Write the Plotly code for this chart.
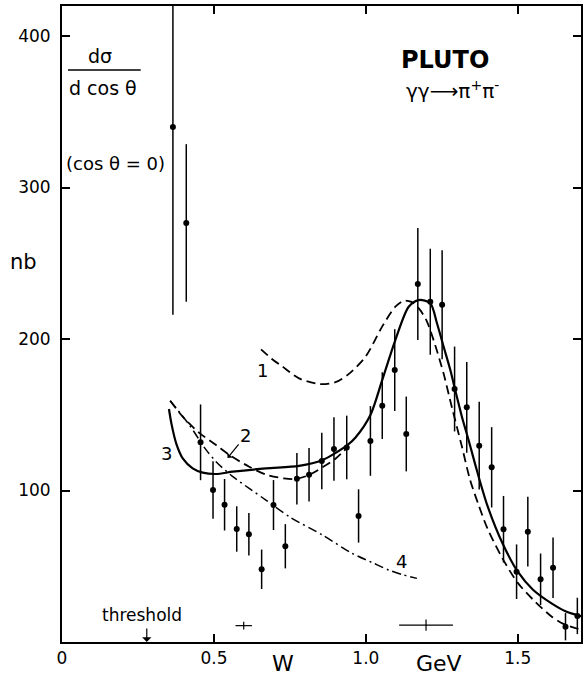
import plotly.graph_objects as go

# ---------------- data ----------------
W_DATA = [0.365, 0.409, 0.456, 0.497, 0.535, 0.575, 0.615, 0.657, 0.696, 0.735,
          0.773, 0.813, 0.855, 0.895, 0.937, 0.976, 1.015, 1.054, 1.095, 1.133,
          1.171, 1.212, 1.251, 1.292, 1.332, 1.373, 1.414, 1.453, 1.496, 1.533,
          1.575, 1.616, 1.657, 1.696]
XSEC = [340, 276.6, 131.8, 100.3, 90.6, 74.6, 71.1, 48.0, 90.4, 63.2,
        107.8, 110.4, 119.5, 127.4, 128.4, 83.2, 132.7, 156.0, 179.5, 137.3,
        236.3, 224.6, 222.6, 167.0, 154.9, 129.6, 115.3, 74.4, 46.4, 72.8,
        41.4, 49.0, 10.1, 17.2]
XSEC_ERR = [124, 52, 25, 19, 17, 15, 14, 13, 16.5, 14.6,
            17, 17.6, 18.6, 21, 21, 17.6, 23, 22, 27, 24.7,
            37, 35, 36, 28, 30, 29, 26.5, 22, 18, 23,
            17, 20, 9, 12]

# resolution markers (+)
RES_W = [0.598, 1.198]
RES_Y = [10.8, 11.2]
RES_DW = [0.027, 0.0885]
RES_DY = [2.6, 3.7]

# curve 1 (dashed)
C1_W = [0.655, 0.69, 0.726, 0.78, 0.846, 0.90, 0.944, 0.999, 1.053, 1.097,
        1.125, 1.15, 1.175, 1.20, 1.228, 1.256, 1.283, 1.316, 1.343, 1.37,
        1.40, 1.45, 1.50, 1.55, 1.61, 1.65, 1.709]
C1_Y = [193.2, 187, 181.7, 174, 170.3, 171.5, 177, 188.3, 208, 221.3,
        225.3, 224.5, 220, 212, 196, 177, 155, 129, 107, 91,
        75, 55, 39, 28, 17, 12, 8]

# curve 2 (dashed, low-energy part)
C2_W = [0.356, 0.398, 0.452, 0.507, 0.551, 0.616, 0.671, 0.73, 0.769, 0.81,
        0.857, 0.90, 0.939]
C2_Y = [159.3, 148.5, 138, 130, 123.4, 115.7, 110.5, 108, 107.6, 110,
        115.3, 121, 128.5]

# curve 3 (solid)
C3_W = [0.352, 0.36, 0.376, 0.398, 0.43, 0.463, 0.507, 0.562, 0.671, 0.78,
        0.857, 0.939, 0.966, 1.015, 1.054, 1.097, 1.141, 1.174, 1.212, 1.234,
        1.256, 1.278, 1.294, 1.316, 1.338, 1.365, 1.40, 1.45, 1.50, 1.55,
        1.611, 1.657, 1.709]
C3_Y = [153.8, 144.3, 131, 121, 114.6, 111.8, 110.9, 112.4, 114.6, 116.2,
        120.1, 130, 135, 149.8, 173, 199.3, 221.3, 225.7, 223.6, 210.4,
        194.9, 179.5, 166.3, 148.7, 133.3, 113.5, 90, 65, 46.4, 34.5,
        25.5, 20.3, 17]

# curve 4 (dash-dot)
C4_W = [0.356, 0.42, 0.47, 0.507, 0.56, 0.616, 0.671, 0.748, 0.857, 0.955,
        1.02, 1.075, 1.12, 1.168]
C4_Y = [159.3, 143, 128, 119, 109.5, 101.4, 93.7, 82.7, 70.6, 58.5,
        52.5, 47.5, 44.5, 42.0]

THRESHOLD_W = 0.279

X_TICKS = [0, 0.5, 1.0, 1.5]
X_TICK_TEXT = ["0", "0.5", "1.0", "1.5"]
Y_TICKS = [100, 200, 300, 400]
Y_TICK_TEXT = ["100", "200", "300", "400"]

X_RANGE = [0, 1.708]
Y_RANGE = [0, 419.8]

# ---------------- figure ----------------
FONT = "DejaVu Sans"
W_PX, H_PX = 584, 678
ML, MR, MT, MB = 62, 1, 6, 36
PW, PH = W_PX - ML - MR, H_PX - MT - MB


def px2paper(px, py):
    return (px - ML) / PW, (H_PX - MB - py) / PH


fig = go.Figure()

fig.add_trace(go.Scatter(x=C1_W, y=C1_Y, mode="lines", line_shape="spline",
                         line=dict(color="black", width=1.8, dash="9px,5px", smoothing=0.8),
                         hoverinfo="skip", showlegend=False))
fig.add_trace(go.Scatter(x=C2_W, y=C2_Y, mode="lines", line_shape="spline",
                         line=dict(color="black", width=1.8, dash="9px,5px", smoothing=0.8),
                         hoverinfo="skip", showlegend=False))
fig.add_trace(go.Scatter(x=C3_W, y=C3_Y, mode="lines", line_shape="spline",
                         line=dict(color="black", width=2.2, smoothing=0.8),
                         hoverinfo="skip", showlegend=False))
fig.add_trace(go.Scatter(x=C4_W, y=C4_Y, mode="lines", line_shape="spline",
                         line=dict(color="black", width=1.5, dash="9px,4px,2px,4px", smoothing=0.8),
                         hoverinfo="skip", showlegend=False))

fig.add_trace(go.Scatter(
    x=W_DATA, y=XSEC, mode="markers",
    marker=dict(color="black", size=6),
    error_y=dict(type="data", array=XSEC_ERR, visible=True, width=0,
                 thickness=1.5, color="black"),
    showlegend=False))

fig.add_trace(go.Scatter(
    x=RES_W, y=RES_Y, mode="markers",
    marker=dict(color="black", size=1),
    error_x=dict(type="data", array=RES_DW, visible=True, width=0,
                 thickness=1.2, color="black"),
    error_y=dict(type="data", array=RES_DY, visible=True, width=0,
                 thickness=1.2, color="black"),
    showlegend=False))

ann = []


def text_px(txt, px, py, size, bold=False, xanchor="center", yanchor="middle"):
    xp, yp = px2paper(px, py)
    ann.append(dict(text=("<b>%s</b>" % txt) if bold else txt, x=xp, y=yp,
                    xref="paper", yref="paper", showarrow=False,
                    xanchor=xanchor, yanchor=yanchor,
                    font=dict(family=FONT, size=size, color="black")))


text_px("dσ", 100, 56, 19)
text_px("d cos θ", 103, 88, 19)
text_px("(cos θ = 0)", 116, 163, 18)
text_px("nb", 23, 262, 21)
text_px("PLUTO", 446, 60, 24, bold=True)
text_px("γγ⟶π<sup>+</sup>π<sup>-</sup>", 454, 90, 20)
text_px("threshold", 142, 615, 17)
text_px("W", 284, 663, 22)
text_px("GeV", 440, 663, 22)

# curve labels
text_px("1", 263, 370, 18)
text_px("3", 167, 453, 18)
text_px("4", 403, 561, 18)

# "2" with arrow pointing to curve 2
ann.append(dict(text="2", x=0.545, y=121.5, xref="x", yref="y",
                showarrow=True, ax=18, ay=-22, arrowhead=1, arrowsize=1,
                arrowwidth=1.2, arrowcolor="black", standoff=0,
                font=dict(family=FONT, size=18, color="black")))

# threshold arrow
ann.append(dict(text="", x=THRESHOLD_W, y=0, xref="x", yref="y",
                showarrow=True, ax=0, ay=-15, arrowhead=1, arrowsize=1.3,
                arrowwidth=1.2, arrowcolor="black", standoff=0))

fig.update_layout(annotations=ann)

# fraction bar
x0, y0 = px2paper(68, 70)
x1, _ = px2paper(141, 70)
fig.add_shape(type="line", xref="paper", yref="paper", x0=x0, x1=x1, y0=y0, y1=y0,
              line=dict(color="black", width=1.5))

fig.update_xaxes(range=X_RANGE, tickvals=X_TICKS, ticktext=X_TICK_TEXT,
                 ticks="inside", ticklen=8, tickwidth=1.5, tickcolor="black",
                 showline=True, linecolor="black", linewidth=2, mirror="ticks",
                 showgrid=False, zeroline=False, ticklabelstandoff=0,
                 tickfont=dict(family=FONT, size=17, color="black"))
fig.update_yaxes(range=Y_RANGE, tickvals=Y_TICKS, ticktext=Y_TICK_TEXT,
                 ticks="inside", ticklen=8, tickwidth=1.5, tickcolor="black",
                 showline=True, linecolor="black", linewidth=2, mirror="ticks",
                 showgrid=False, zeroline=False, ticklabelstandoff=6,
                 tickfont=dict(family=FONT, size=17, color="black"))

fig.update_layout(width=W_PX, height=H_PX,
                  margin=dict(l=ML, r=MR, t=MT, b=MB, pad=0),
                  paper_bgcolor="white", plot_bgcolor="white",
                  showlegend=False)

fig.write_html("out.html")
